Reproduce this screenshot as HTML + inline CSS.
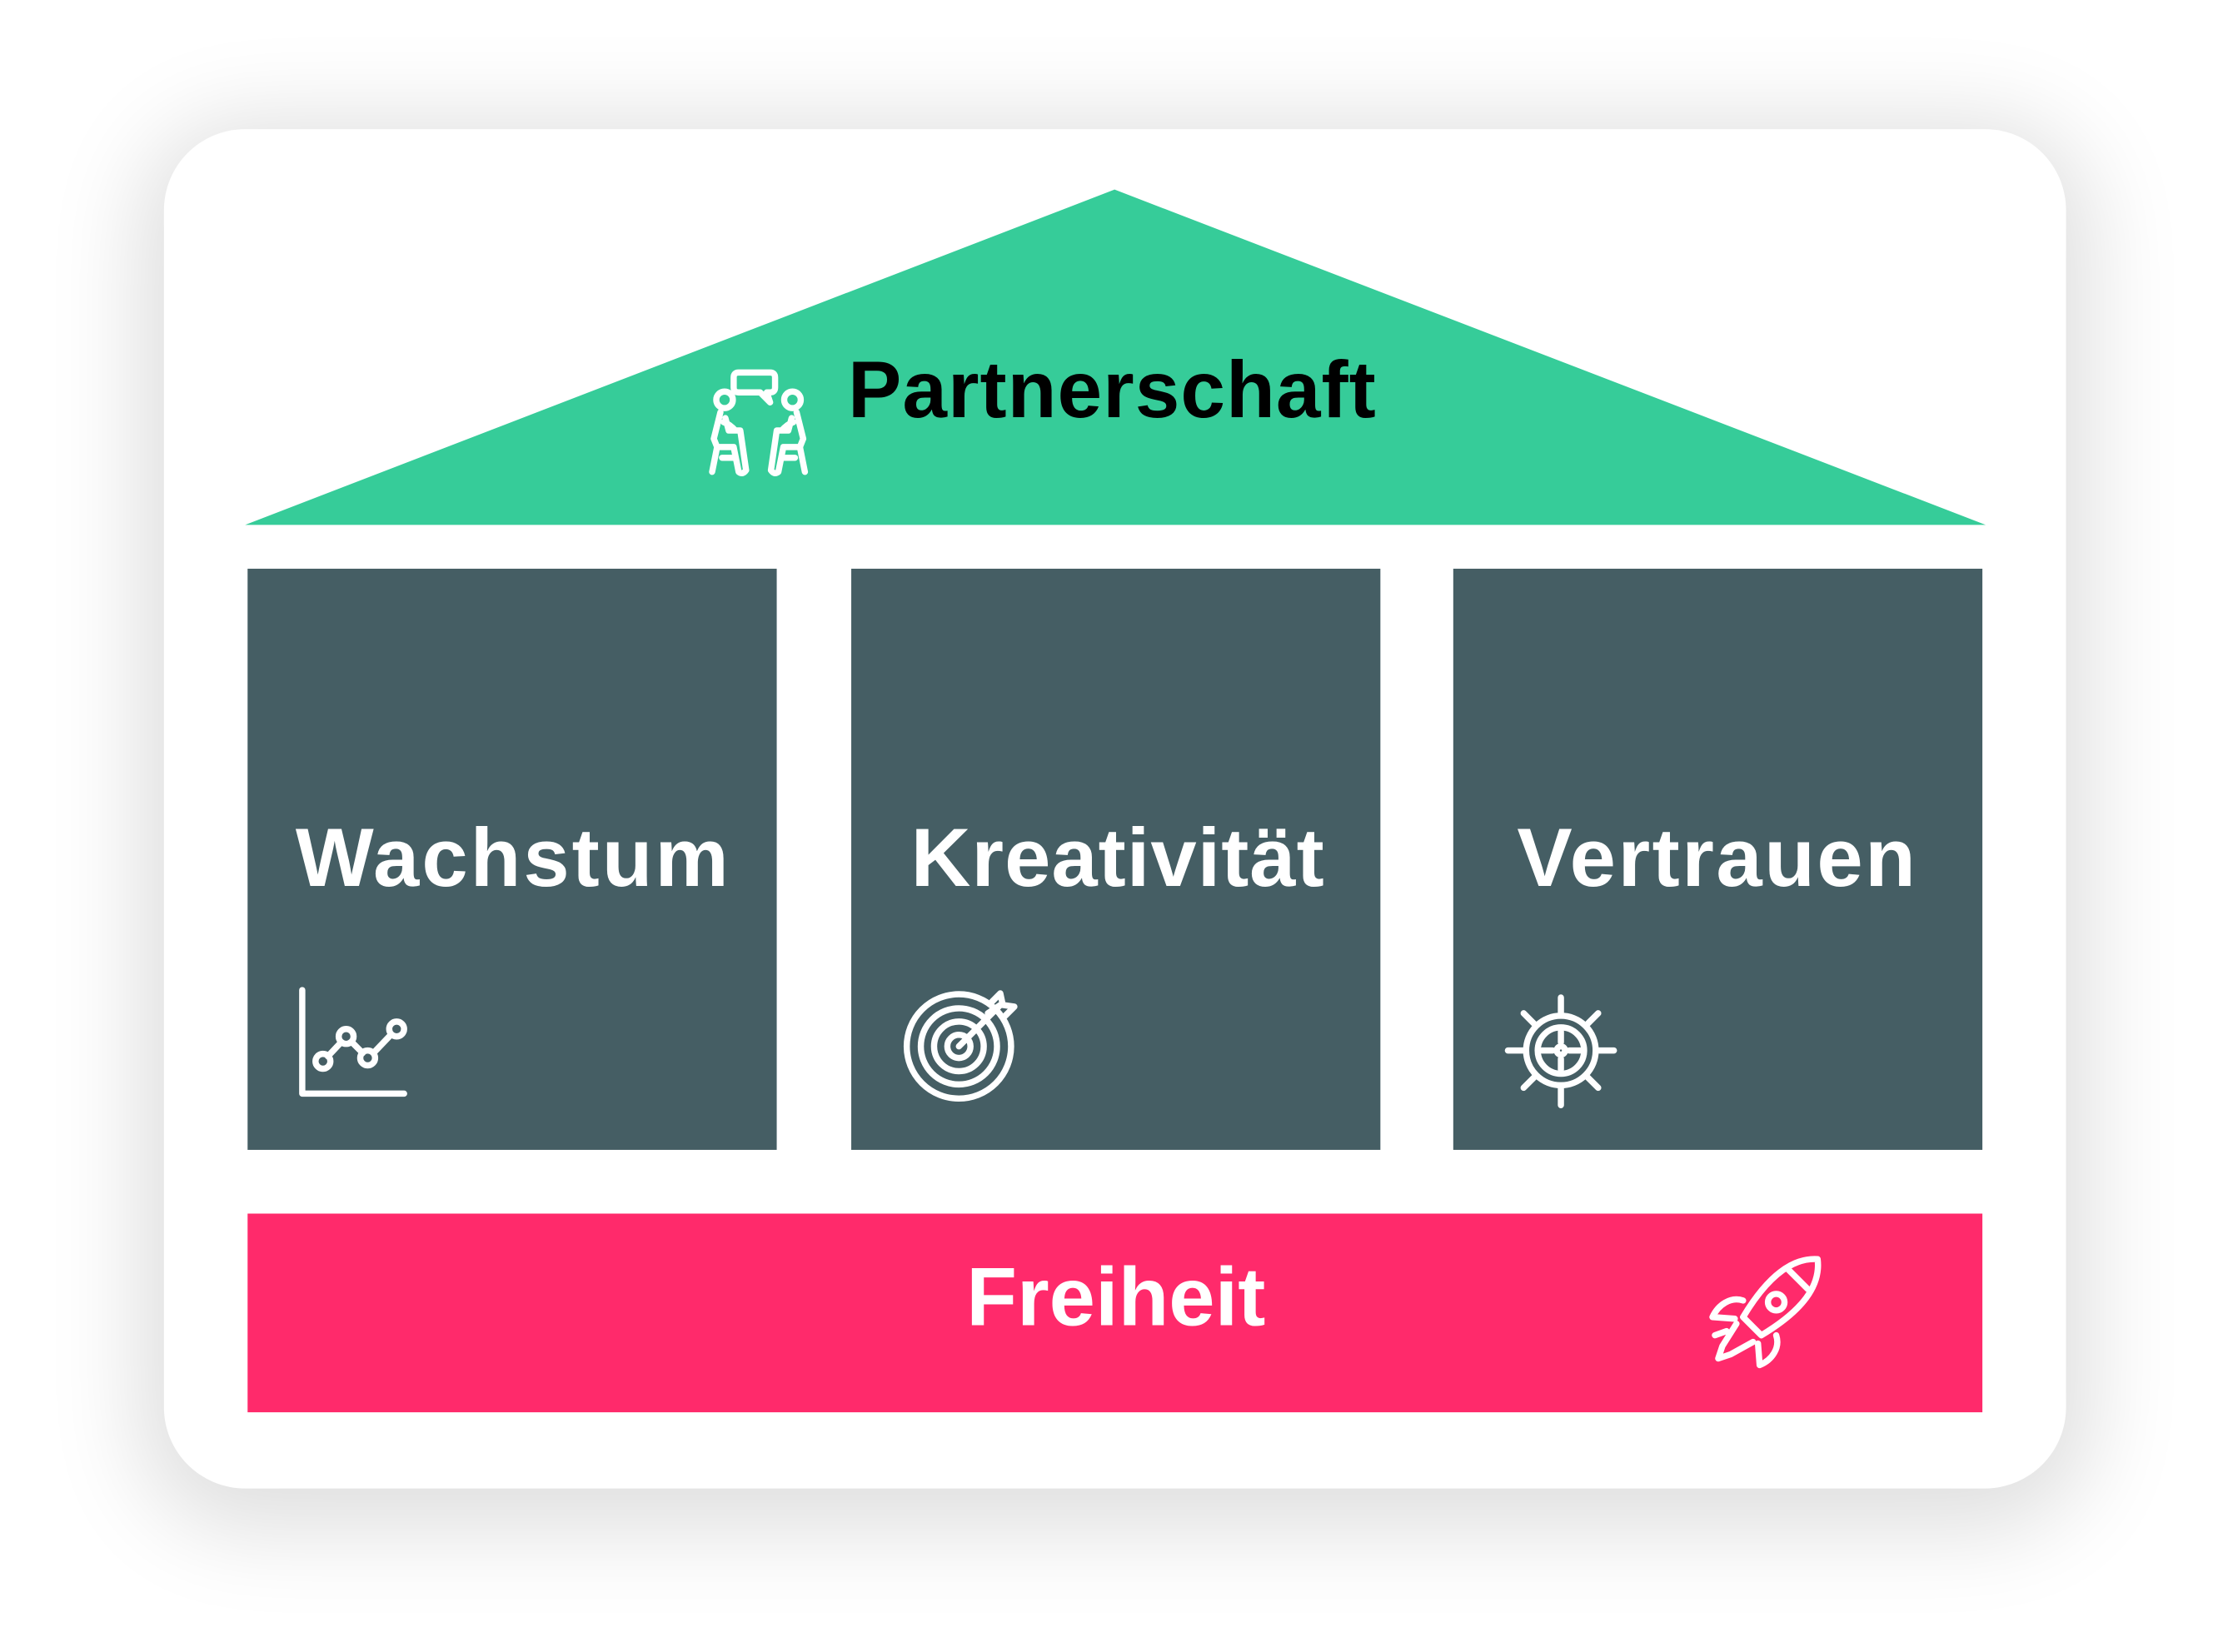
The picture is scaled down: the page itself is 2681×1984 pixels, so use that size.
<!DOCTYPE html>
<html><head><meta charset="utf-8"><style>
html,body{margin:0;padding:0;background:#fff;}
body{width:2681px;height:1984px;position:relative;overflow:hidden;font-family:"Liberation Sans",sans-serif;}
#w{position:absolute;left:0;top:0;width:2681px;height:1984px;transform:scale(0.9942);transform-origin:0 0;}
.card{position:absolute;left:198px;top:156px;width:2297px;height:1642px;background:#fff;border-radius:98px;box-shadow:0 20px 110px 30px rgba(0,0,0,0.13);}
.p{position:absolute;background:#455E64;}
.t{position:absolute;color:#fff;font-weight:bold;font-size:100px;letter-spacing:3px;white-space:nowrap;line-height:1;}
</style></head><body><div id="w">
<div class="card"></div>
<svg width="2681" height="1984" style="position:absolute;left:0;top:0">
<polygon points="1346,229 2398,634 296,634" fill="#36CC99"/>
</svg>
<div class="p" style="left:299px;top:687px;width:639px;height:702px"></div>
<div class="p" style="left:1028px;top:687px;width:639px;height:702px"></div>
<div class="p" style="left:1755px;top:687px;width:639px;height:702px"></div>
<div style="position:absolute;left:299px;top:1466px;width:2095px;height:240px;background:#FF2A6B"></div>
<div class="t" style="left:1024px;top:422px;color:#000;font-size:97px;letter-spacing:1px">Partnerschaft</div>
<div class="t" style="left:357px;top:986px">Wachstum</div>
<div class="t" style="left:1100px;top:986px;letter-spacing:1px">Kreativität</div>
<div class="t" style="left:1832px;top:986px;letter-spacing:2.5px">Vertrauen</div>
<div class="t" style="left:1167px;top:1517px;letter-spacing:0">Freiheit</div>
<svg width="2681" height="1984" style="position:absolute;left:0;top:0" fill="none" stroke="#fff" stroke-width="7.5" stroke-linecap="round" stroke-linejoin="round">
<g transform="translate(0,7)">
<path d="M365 1189 V1314 H488"/>
<path d="M396 1269 L412 1252 M425 1252 L438 1265 M451 1265 L472 1243"/>
<circle cx="390" cy="1275" r="9"/><circle cx="418" cy="1245" r="9"/><circle cx="444" cy="1271" r="9"/><circle cx="479" cy="1236" r="9"/>
</g>
<g transform="translate(3,2)">
<circle cx="1155" cy="1262" r="63"/><circle cx="1155" cy="1262" r="46"/><circle cx="1155" cy="1262" r="30"/><circle cx="1155" cy="1262" r="14"/>
<path d="M1155 1262 L1205 1212 M1195 1208 L1205 1198 L1208 1212 L1222 1214 L1210 1226 M1190 1222 L1205 1212"/>
</g>
<g transform="translate(5,3)">
<circle cx="1880" cy="1266" r="42"/><circle cx="1880" cy="1266" r="28"/><circle cx="1880" cy="1266" r="5"/>
<path d="M1880 1202 V1220 M1880 1312 V1332 M1816 1266 H1834 M1926 1266 H1944 M1835 1221 L1848 1234 M1912 1298 L1925 1311 M1925 1221 L1912 1234 M1848 1298 L1835 1311 M1880 1243 V1256 M1880 1276 V1289 M1857 1266 H1870 M1890 1266 H1903"/>
</g>
<g transform="translate(5,1)">
<path d="M2190 1520 C2160 1518 2130 1540 2100 1590 L2122 1612 C2172 1582 2194 1552 2190 1520 Z"/>
<circle cx="2140" cy="1572" r="10"/>
<path d="M2155 1533 L2178 1556 M2100 1570 C2085 1565 2070 1575 2063 1590 L2090 1592 M2140 1612 C2145 1627 2135 1642 2120 1648 L2118 1622 M2092 1598 L2075 1625 L2070 1640 L2085 1635 L2112 1620 M2080 1607 L2066 1612"/>
</g>
<circle cx="875" cy="483" r="10"/><circle cx="957" cy="483" r="10"/>
<path d="M892 450 H930 Q936 450 936 456 V468 Q936 474 930 474 H926 L930 486 L918 474 H892 Q886 474 886 468 V456 Q886 450 892 450 Z"/>
<path d="M870 498 L862 530 L866 540 H886 L892 570 Q897 574 901 568 L894 520 H880 L876 505 M888 520 Q882 513 874 510"/>
<path d="M962 498 L970 530 L966 540 H946 L940 570 Q935 574 931 568 L938 520 H952 L956 505 M944 520 Q950 513 958 510"/>
<path d="M866 540 L860 570 M872 553 H888 M966 540 L972 570 M960 553 H944"/>
</svg>
</div></body></html>
